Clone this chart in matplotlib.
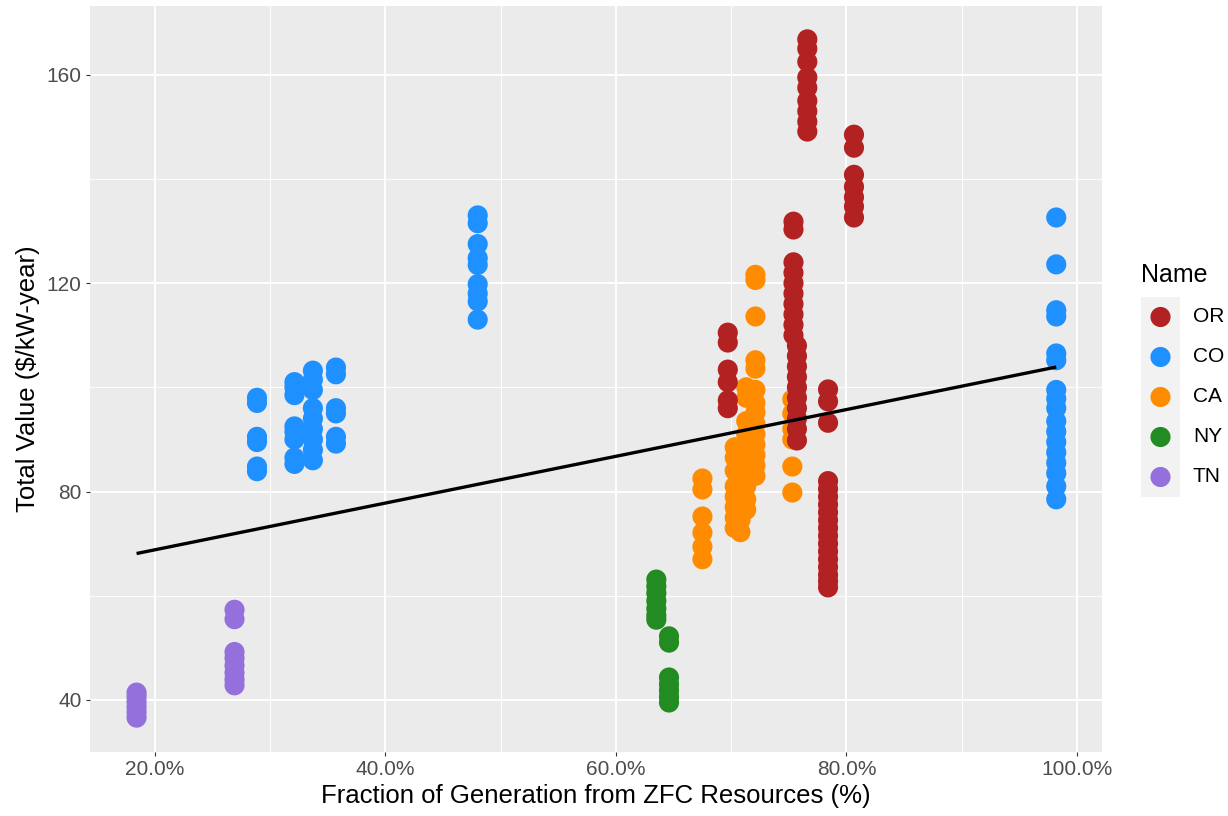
import numpy as np
import matplotlib
matplotlib.use("Agg")
import matplotlib.pyplot as plt
from matplotlib.ticker import PercentFormatter, FixedLocator

plt.rcParams['font.family'] = ['Liberation Sans', 'DejaVu Sans']

# Fraction of generation from ZFC resources vs total value, per state
or_x = [0.766] * 9 + [0.8065] * 7 + [0.754] * 10 + [0.757] * 10 + [0.697] * 6 + [0.784] * 18
or_y = [166.8, 165.0, 162.5, 159.5, 157.5, 155.0, 153.0, 151.0, 149.1,
        148.5, 146.0, 140.8, 138.5, 136.5, 134.7, 132.6,
        131.8, 130.3, 124.0, 122.0, 120.0, 118.0, 116.0, 114.0, 112.0, 110.0,
        108.0, 106.0, 104.0, 102.0, 100.0, 98.0, 96.0, 94.0, 92.0, 89.8,
        110.5, 108.6, 103.4, 101.0, 97.5, 96.0,
        99.6, 97.3, 93.2, 82.0, 80.5, 79.0, 77.5, 76.0, 74.5, 73.0,
        71.5, 70.0, 68.5, 67.0, 65.5, 64.0, 62.8, 61.6]

co_x = [0.2885] * 6 + [0.321] * 8 + [0.337] * 9 + [0.357] * 6 + [0.480] * 9 + [0.982] * 17
co_y = [98.0, 97.0, 90.5, 89.5, 84.8, 83.9,
        101.0, 100.0, 98.5, 92.5, 91.5, 90.0, 86.5, 85.3,
        103.2, 101.5, 99.5, 96.0, 94.0, 92.0, 90.0, 88.0, 86.0,
        103.8, 102.5, 96.0, 95.0, 90.5, 89.2,
        133.0, 131.5, 127.5, 124.8, 123.5, 119.8, 118.0, 116.5, 113.0,
        132.6, 123.6, 114.8, 113.6, 106.5, 105.2, 99.5, 97.8, 96.0, 93.5,
        91.5, 89.5, 87.5, 85.5, 83.5, 81.0, 78.5]

ca_x = [0.675] * 6 + [0.721] * 14 + [0.713] * 10 + [0.703] * 8 + [0.708] * 2 + [0.753] * 6
ca_y = [82.5, 80.4, 75.2, 72.1, 69.4, 67.0,
        121.6, 120.6, 113.6, 105.2, 103.6, 99.5, 97.0, 95.2, 93.0, 91.0, 89.0, 87.0, 85.0, 83.0,
        100.0, 98.0, 93.5, 91.0, 88.0, 86.0, 84.0, 81.0, 78.5, 76.5,
        88.5, 86.5, 84.0, 81.0, 79.0, 77.0, 75.0, 73.0,
        72.2, 74.5,
        97.7, 95.0, 92.0, 90.0, 84.8, 79.8]

ny_x = [0.635] * 7 + [0.646] * 7
ny_y = [63.1, 61.8, 60.5, 59.0, 57.5, 56.2, 55.4,
        52.2, 51.0, 44.3, 43.0, 41.8, 40.6, 39.5]

tn_x = [0.184] * 6 + [0.269] * 8
tn_y = [36.6, 37.6, 38.6, 39.6, 40.6, 41.4,
        57.3, 55.5, 49.2, 48.0, 46.6, 45.2, 43.9, 42.8]

# linear trend across all states
fit_x = [0.184, 0.982]
fit_y = [68.1, 103.9]

names = ["OR", "CO", "CA", "NY", "TN"]
colors = {"OR": "#B22222", "CO": "#1E90FF", "CA": "#FF8C00", "NY": "#228B22", "TN": "#9370DB"}
series = {"OR": (or_x, or_y), "CO": (co_x, co_y), "CA": (ca_x, ca_y),
          "NY": (ny_x, ny_y), "TN": (tn_x, tn_y)}

fig = plt.figure(figsize=(12.28, 8.16), dpi=100)
W, H = 1228, 816
ax = fig.add_axes([90 / W, 1 - 752 / H, (1102 - 90) / W, (752 - 6) / H])
ax.set_facecolor("#EBEBEB")
for s in ax.spines.values():
    s.set_visible(False)

ms = 210
# draw order: CA below OR where they overlap
for nm in ["TN", "NY", "CA", "CO", "OR"]:
    xs, ys = series[nm]
    ax.scatter(xs, ys, s=ms, color=colors[nm], edgecolors="none", zorder=3)

ax.plot(fit_x, fit_y, color="black", lw=2.4, zorder=4, solid_capstyle="butt")

ax.set_xlim(0.1436, 1.0217)
ax.set_ylim(30.0, 173.2)
ax.set_xticks([0.2, 0.4, 0.6, 0.8, 1.0])
ax.xaxis.set_minor_locator(FixedLocator([0.3, 0.5, 0.7, 0.9]))
ax.set_yticks([40, 80, 120, 160])
ax.yaxis.set_minor_locator(FixedLocator([60, 100, 140]))
ax.xaxis.set_major_formatter(PercentFormatter(xmax=1, decimals=1))

ax.grid(which="major", color="white", lw=1.4)
ax.grid(which="minor", color="white", lw=0.7)
ax.set_axisbelow(True)
ax.tick_params(which="major", length=3, width=0.8, color="#333333",
               labelsize=15, labelcolor="#4D4D4D", pad=3)
ax.tick_params(which="minor", length=0)

ax.set_xlabel("Fraction of Generation from ZFC Resources (%)", fontsize=18.5, labelpad=3)
ax.set_ylabel("Total Value ($/kW-year)", fontsize=18.5, labelpad=5)

# legend: gray key column with a dot per state
lax = fig.add_axes([1141 / W, 1 - 497 / H, 39 / W, 200 / H])
lax.set_facecolor("#F2F2F2")
for s in lax.spines.values():
    s.set_visible(False)
lax.set_xticks([])
lax.set_yticks([])
lax.set_xlim(0, 1)
lax.set_ylim(4.5, -0.5)
for i, nm in enumerate(names):
    lax.scatter([0.5], [i], s=ms, color=colors[nm], edgecolors="none", clip_on=False)
    lax.text(1.33, i, nm, fontsize=15, va="center", ha="left", transform=lax.transData)
fig.text(1141 / W, 1 - 282 / H, "Name", fontsize=18, ha="left", va="baseline")

fig.savefig("out.png", dpi=100, facecolor="white")
